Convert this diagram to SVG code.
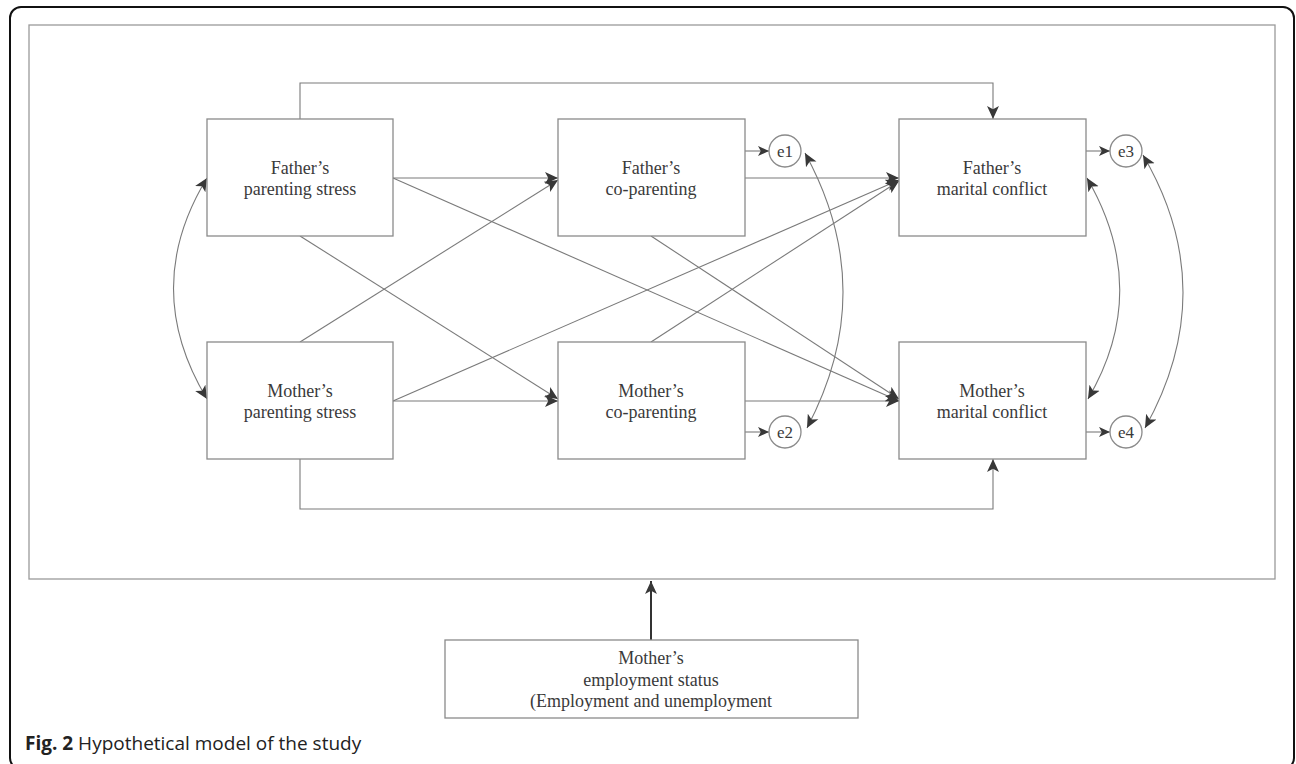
<svg xmlns="http://www.w3.org/2000/svg" width="1296" height="764" viewBox="0 0 1296 764">
<style>
.box{fill:#fff;stroke:#8a8a8a;stroke-width:1.3}
.lbl{font-family:"Liberation Serif",serif;font-size:18px;fill:#3a3a3a;text-anchor:middle}
.el{font-family:"Liberation Serif",serif;font-size:17px;fill:#3a3a3a;text-anchor:middle}
.ln{fill:none;stroke:#7a7a7a;stroke-width:1.1}
.cap{font-family:"Open Sans",sans-serif;font-size:19px;fill:#222}
</style>
<defs>
<marker id="ah" viewBox="0 0 12 12" refX="12" refY="6" markerWidth="13" markerHeight="13" markerUnits="userSpaceOnUse" orient="auto-start-reverse">
<path d="M0,0.5 L12,6 L0,11.5 L3,6 Z" fill="#383838"/>
</marker>
<marker id="ahs" viewBox="0 0 12 12" refX="12" refY="6" markerWidth="11" markerHeight="11" markerUnits="userSpaceOnUse" orient="auto">
<path d="M0,0.5 L12,6 L0,11.5 L3,6 Z" fill="#383838"/>
</marker>
</defs>
<rect width="1296" height="764" fill="#fff"/>
<rect x="10" y="7" width="1284" height="762" rx="11" fill="none" stroke="#111" stroke-width="2"/>
<rect x="29" y="25" width="1246" height="554" fill="none" stroke="#9a9a9a" stroke-width="1.3"/>

<g id="connectors">
<path class="ln" d="M300,119 V83 H993 V119" marker-end="url(#ah)"/>
<path class="ln" d="M300,459 V509 H993 V459" marker-end="url(#ah)"/>
<line class="ln" x1="393" y1="178" x2="558" y2="178" marker-end="url(#ah)"/>
<line class="ln" x1="745" y1="178" x2="899" y2="178" marker-end="url(#ah)"/>
<line class="ln" x1="393" y1="401" x2="558" y2="401" marker-end="url(#ah)"/>
<line class="ln" x1="745" y1="401" x2="899" y2="401" marker-end="url(#ah)"/>
<line class="ln" x1="393" y1="178" x2="899" y2="401" marker-end="url(#ah)"/>
<line class="ln" x1="300" y1="236" x2="558" y2="399" marker-end="url(#ah)"/>
<line class="ln" x1="300" y1="342" x2="558" y2="180" marker-end="url(#ah)"/>
<line class="ln" x1="393" y1="401" x2="899" y2="180" marker-end="url(#ah)"/>
<line class="ln" x1="651" y1="236" x2="899" y2="399" marker-end="url(#ah)"/>
<line class="ln" x1="651" y1="342" x2="899" y2="181" marker-end="url(#ah)"/>
<line class="ln" x1="745" y1="151" x2="769" y2="151" marker-end="url(#ahs)"/>
<line class="ln" x1="745" y1="432" x2="769" y2="432" marker-end="url(#ahs)"/>
<line class="ln" x1="1086" y1="151" x2="1110" y2="151" marker-end="url(#ahs)"/>
<line class="ln" x1="1086" y1="432" x2="1110" y2="432" marker-end="url(#ahs)"/>
<path class="ln" d="M207,178 Q140,288 207,399" marker-start="url(#ah)" marker-end="url(#ah)"/>
<path class="ln" d="M805,153 Q880,290 807,428" marker-start="url(#ah)" marker-end="url(#ah)"/>
<path class="ln" d="M1087,178 Q1152,290 1088,399" marker-start="url(#ah)" marker-end="url(#ah)"/>
<path class="ln" d="M1143,155 Q1222,290 1145,428" marker-start="url(#ah)" marker-end="url(#ah)"/>
<line x1="651" y1="640" x2="651" y2="581" stroke="#333" stroke-width="2" marker-end="url(#ah)"/>
</g>

<g id="father-parenting-stress">
<rect class="box" x="207" y="119" width="186" height="117"/>
<text class="lbl" x="300" y="174">Father’s</text>
<text class="lbl" x="300" y="195">parenting stress</text>
</g>
<g id="father-co-parenting">
<rect class="box" x="558" y="119" width="187" height="117"/>
<text class="lbl" x="651" y="174">Father’s</text>
<text class="lbl" x="651" y="195">co-parenting</text>
</g>
<g id="father-marital-conflict">
<rect class="box" x="899" y="119" width="187" height="117"/>
<text class="lbl" x="992" y="174">Father’s</text>
<text class="lbl" x="992" y="195">marital conflict</text>
</g>
<g id="mother-parenting-stress">
<rect class="box" x="207" y="342" width="186" height="117"/>
<text class="lbl" x="300" y="397">Mother’s</text>
<text class="lbl" x="300" y="418">parenting stress</text>
</g>
<g id="mother-co-parenting">
<rect class="box" x="558" y="342" width="187" height="117"/>
<text class="lbl" x="651" y="397">Mother’s</text>
<text class="lbl" x="651" y="418">co-parenting</text>
</g>
<g id="mother-marital-conflict">
<rect class="box" x="899" y="342" width="187" height="117"/>
<text class="lbl" x="992" y="397">Mother’s</text>
<text class="lbl" x="992" y="418">marital conflict</text>
</g>
<g id="e1">
<circle class="box" cx="785" cy="151" r="16"/>
<text class="el" x="785" y="157">e1</text>
</g>
<g id="e2">
<circle class="box" cx="785" cy="432" r="16"/>
<text class="el" x="785" y="438">e2</text>
</g>
<g id="e3">
<circle class="box" cx="1126" cy="151" r="16"/>
<text class="el" x="1126" y="157">e3</text>
</g>
<g id="e4">
<circle class="box" cx="1126" cy="432" r="16"/>
<text class="el" x="1126" y="438">e4</text>
</g>
<g id="mother-employment-status">
<rect class="box" x="445" y="640" width="413" height="78"/>
<text class="lbl" x="651" y="664">Mother’s</text>
<text class="lbl" x="651" y="686">employment status</text>
<text class="lbl" x="651" y="707">(Employment and unemployment</text>
</g>
<text class="cap" x="25" y="750"><tspan font-weight="bold">Fig. 2</tspan> Hypothetical model of the study</text>
</svg>
